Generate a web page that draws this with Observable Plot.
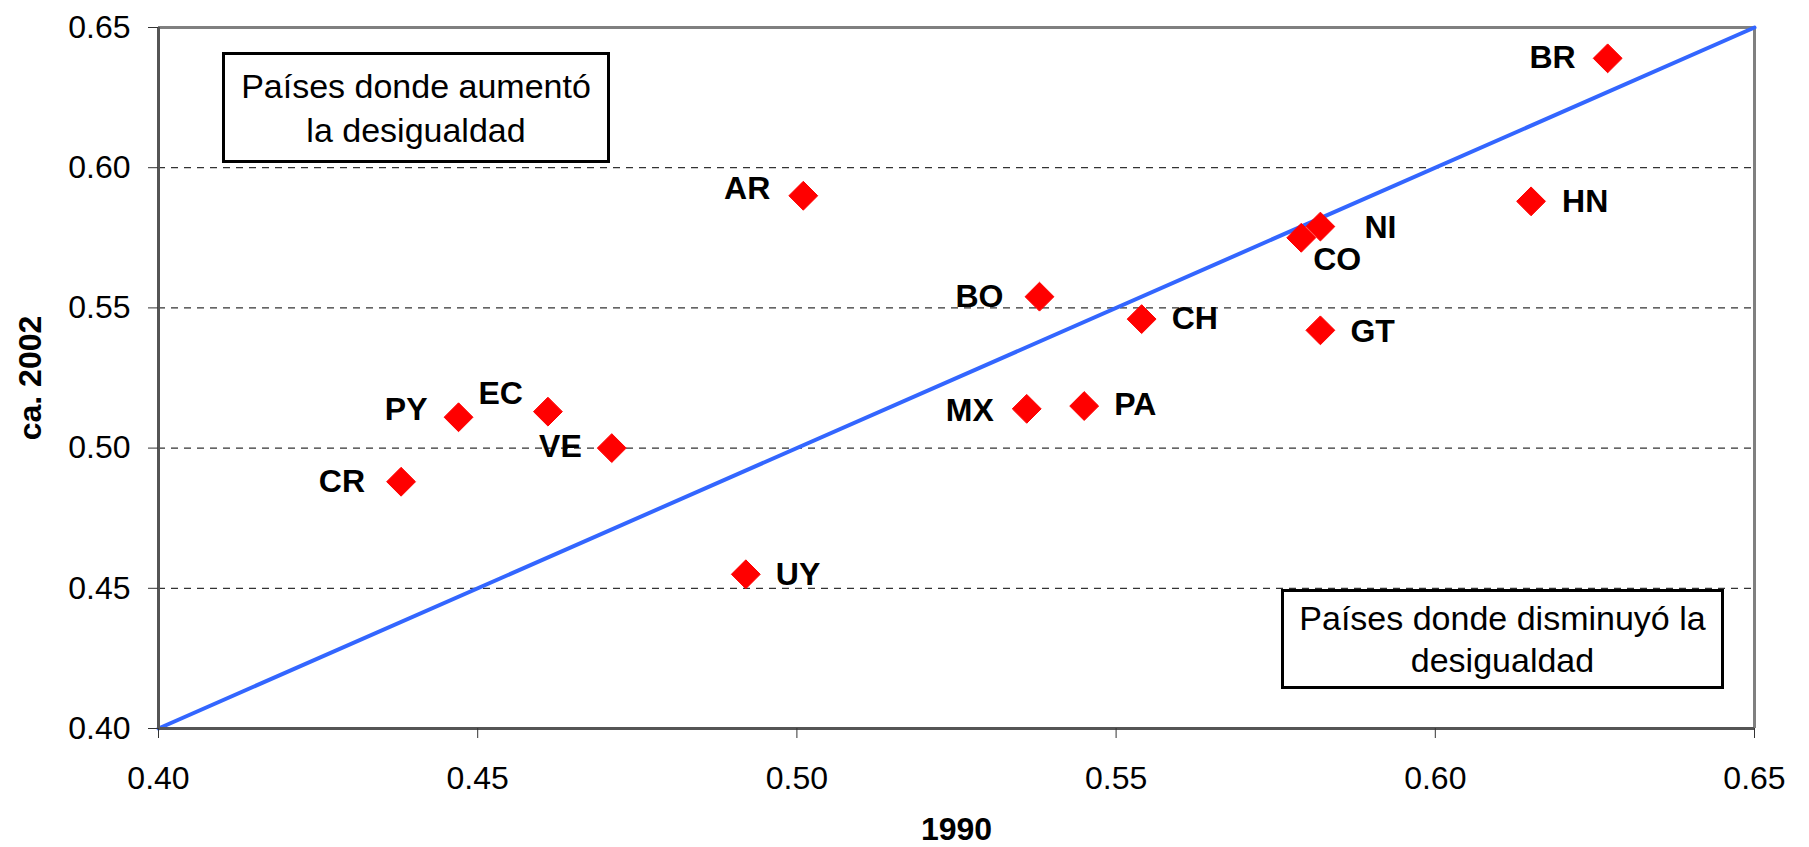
<!DOCTYPE html>
<html>
<head>
<meta charset="utf-8">
<script src="https://cdn.jsdelivr.net/npm/d3@7"></script>
<script src="https://cdn.jsdelivr.net/npm/@observablehq/plot@0.6"></script>
<style>
  html, body { margin: 0; padding: 0; background: #fff; }
  #wrap { position: relative; width: 1809px; height: 847px; font-family: "Liberation Sans", Arial, sans-serif; }
  .box { position: absolute; box-sizing: border-box; border: 3px solid #000; background: #fff;
         display: flex; align-items: center; justify-content: center; text-align: center;
         font-size: 34px; color: #000; }
  #box1 { left: 222px; top: 52px; width: 388px; height: 111px; line-height: 44px; }
  #box2 { left: 1281px; top: 589px; width: 443px; height: 100px; line-height: 42px; }
</style>
</head>
<body>
<div id="wrap">
  <div id="chart"></div>
  <div class="box" id="box1"><div>Países donde aumentó<br>la desigualdad</div></div>
  <div class="box" id="box2"><div>Países donde disminuyó la<br>desigualdad</div></div>
</div>
<script>
// ---- data ----
const countries = ["BR","HN","AR","NI","CO","BO","CH","GT","PA","MX","EC","PY","VE","CR","UY"];
const gini1990  = [0.627,0.615,0.501,0.582,0.579,0.538,0.554,0.582,0.545,0.536,0.461,0.447,0.471,0.438,0.492];
const gini2002  = [0.639,0.588,0.590,0.579,0.575,0.554,0.546,0.542,0.515,0.514,0.513,0.511,0.500,0.488,0.455];
const xTicks = [0.40,0.45,0.50,0.55,0.60,0.65];
const yTicks = [0.40,0.45,0.50,0.55,0.60,0.65];
const tickLabels = ["0.40","0.45","0.50","0.55","0.60","0.65"];
const gridValues = [0.45,0.50,0.55,0.60];
const equalityX = [0.40,0.65];
const equalityY = [0.40,0.65];
const xTitle = "1990";
const yTitle = "ca. 2002";

// ---- label placement (style) ----
const placement = {
  BR: {a:"end", dx:-32, dy:-1}, HN: {a:"start", dx:31, dy:0}, AR: {a:"end", dx:-33, dy:-7},
  NI: {a:"start", dx:44, dy:1}, CO: {a:"start", dx:12, dy:22}, BO: {a:"end", dx:-36, dy:0},
  CH: {a:"start", dx:30, dy:0}, GT: {a:"start", dx:30, dy:1}, PA: {a:"start", dx:30, dy:-1},
  MX: {a:"end", dx:-33, dy:2}, EC: {a:"end", dx:-25, dy:-18}, PY: {a:"end", dx:-31, dy:-8},
  VE: {a:"end", dx:-30, dy:-1}, CR: {a:"end", dx:-36, dy:0}, UY: {a:"start", dx:30, dy:0}
};

const data = countries.map((c, i) => ({code: c, x: gini1990[i], y: gini2002[i]}));
const diag = equalityX.map((x, i) => ({x, y: equalityY[i]}));
const fmt = d => tickLabels[xTicks.findIndex(t => Math.abs(t - d) < 1e-9)];

const labelMarks = Object.entries(
  data.reduce((acc, d) => {
    const p = placement[d.code];
    const key = `${p.a}|${p.dx}|${p.dy}`;
    (acc[key] = acc[key] || []).push(d);
    return acc;
  }, {})
).map(([key, rows]) => {
  const [a, dx, dy] = key.split("|");
  return Plot.text(rows, {x: "x", y: "y", text: "code", textAnchor: a, dx: +dx, dy: +dy,
    fontSize: 32, fontWeight: "bold", fill: "#000"});
});

const chart = Plot.plot({
  width: 1809, height: 847,
  marginLeft: 158, marginRight: 55, marginTop: 27, marginBottom: 119,
  x: {domain: [0.40, 0.65]},
  y: {domain: [0.40, 0.65]},
  style: {fontFamily: '"Liberation Sans", Arial, sans-serif', background: "#fff", color: "#000", overflow: "visible"},
  marks: [
    Plot.ruleY(gridValues, {stroke: "#333", strokeWidth: 1.2, strokeDasharray: "7,6"}),
    Plot.ruleY([0.65], {stroke: "#808080", strokeWidth: 3}),
    Plot.ruleX([0.65], {stroke: "#808080", strokeWidth: 3}),
    Plot.line(diag, {x: "x", y: "y", stroke: "#3366ff", strokeWidth: 4}),
    Plot.ruleX([0.40], {stroke: "#555", strokeWidth: 3}),
    Plot.ruleY([0.40], {stroke: "#555", strokeWidth: 3}),
    Plot.axisX({ticks: xTicks, tickFormat: fmt, tickSize: 10, tickPadding: 28, fontSize: 32, label: null, stroke: "#333"}),
    Plot.axisY({ticks: yTicks, tickFormat: fmt, tickSize: 10, tickPadding: 18, fontSize: 32, label: null, stroke: "#333"}),
    Plot.dot(data, {x: "x", y: "y", symbol: "diamond2", r: 13, fill: "#ff0000", stroke: "#ff0000", strokeWidth: 1, strokeLinejoin: "round"}),
    ...labelMarks,
    Plot.text([xTitle], {frameAnchor: "bottom", lineAnchor: "middle", dy: 101, fontSize: 32, fontWeight: "bold"}),
    Plot.text([yTitle], {frameAnchor: "left", lineAnchor: "middle", textAnchor: "middle", rotate: -90, dx: -128, fontSize: 32, fontWeight: "bold"})
  ]
});
document.getElementById("chart").appendChild(chart);
</script>
</body>
</html>
